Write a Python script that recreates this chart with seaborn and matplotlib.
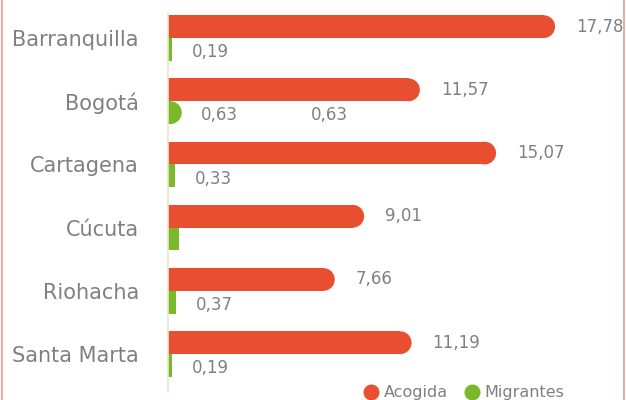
import pandas as pd
import seaborn as sns
import matplotlib.pyplot as plt
from matplotlib.lines import Line2D
from matplotlib.patches import Ellipse

# datos
ciudades = ["Barranquilla", "Bogotá", "Cartagena", "Cúcuta", "Riohacha", "Santa Marta"]
acogida = [17.78, 11.57, 15.07, 9.01, 7.66, 11.19]
migrantes = [0.19, 0.63, 0.33, 0.50, 0.37, 0.19]
etiquetas_migrantes = ["0,19", "0,63", "0,33", "", "0,37", "0,19"]
series = ["Acogida", "Migrantes"]

ROJO = "#E84F30"
VERDE = "#7AB929"
GRIS = "#808080"

df = pd.DataFrame({
    "ciudad": ciudades * 2,
    "valor": acogida + migrantes,
    "serie": [series[0]] * len(ciudades) + [series[1]] * len(ciudades),
})

sns.set_style("white")
plt.rcParams["font.family"] = ["DejaVu Sans"]

fig = plt.figure(figsize=(6.26, 4), dpi=100)
ax = fig.add_axes([168 / 626, 0.02, 435.4 / 626, 0.945])

sns.barplot(data=df, x="valor", y="ciudad", hue="serie", orient="h",
            palette=[ROJO, VERDE], saturation=1, width=0.72, linewidth=0,
            legend=False, ax=ax)

ax.set_xlim(0, 20)
ax.set_ylim(5.6, -0.38)

# extremos redondeados: semicirculo al final de cada barra
px_x = ax.bbox.width / 20
px_y = ax.bbox.height / (5.6 + 0.38)

for cont in ax.containers:
    for bar in cont:
        w = bar.get_width()
        h = bar.get_height()
        rx = (h * px_y / 2) / px_x
        if w <= rx:
            continue
        bar.set_width(w - rx)
        tapa = Ellipse((w - rx, bar.get_y() + h / 2), 2 * rx, h,
                       facecolor=bar.get_facecolor(), linewidth=0,
                       zorder=bar.get_zorder())
        ax.add_patch(tapa)

# etiquetas de valores
for i, v in enumerate(acogida):
    yc = ax.containers[0][i].get_y() + ax.containers[0][i].get_height() / 2
    ax.annotate(f"{v:.2f}".replace(".", ","), xy=(v, yc), xytext=(15, 0),
                textcoords="offset points", va="center", ha="left",
                fontsize=12, color=GRIS)

for i, v in enumerate(migrantes):
    if not etiquetas_migrantes[i]:
        continue
    yc = ax.containers[1][i].get_y() + ax.containers[1][i].get_height() / 2
    ax.annotate(etiquetas_migrantes[i], xy=(v, yc), xytext=(14, -2),
                textcoords="offset points", va="center", ha="left",
                fontsize=12, color=GRIS)

# etiqueta repetida de Bogota que aparece en el original
yb = ax.containers[1][1].get_y() + ax.containers[1][1].get_height() / 2
ax.annotate(etiquetas_migrantes[1], xy=(migrantes[1], yb), xytext=(93, -2),
            textcoords="offset points", va="center", ha="left",
            fontsize=12, color=GRIS)

ax.set_xlabel("")
ax.set_ylabel("")
ax.set_xticks([])
ax.tick_params(axis="y", length=0, pad=21, labelsize=15, labelcolor=GRIS)
for lado in ["top", "right", "bottom"]:
    ax.spines[lado].set_visible(False)
ax.spines["left"].set_color("#E4EAC4")
ax.spines["left"].set_linewidth(1.2)

handles = [Line2D([], [], marker="o", linestyle="", markersize=11.5,
                  markerfacecolor=c, markeredgewidth=0) for c in (ROJO, VERDE)]
fig.legend(handles, series, loc="center", bbox_to_anchor=(464 / 626, 0.018),
           ncol=2, frameon=False, fontsize=11.5, labelcolor=GRIS,
           handletextpad=0.3, columnspacing=1.0, handlelength=1.0)

# bordes laterales del recuadro
for xf in (1.5 / 626, 623.5 / 626):
    fig.add_artist(Line2D([xf, xf], [0, 1], color="#F4978A", linewidth=1.2,
                          transform=fig.transFigure))

fig.savefig("out.png", dpi=100)
